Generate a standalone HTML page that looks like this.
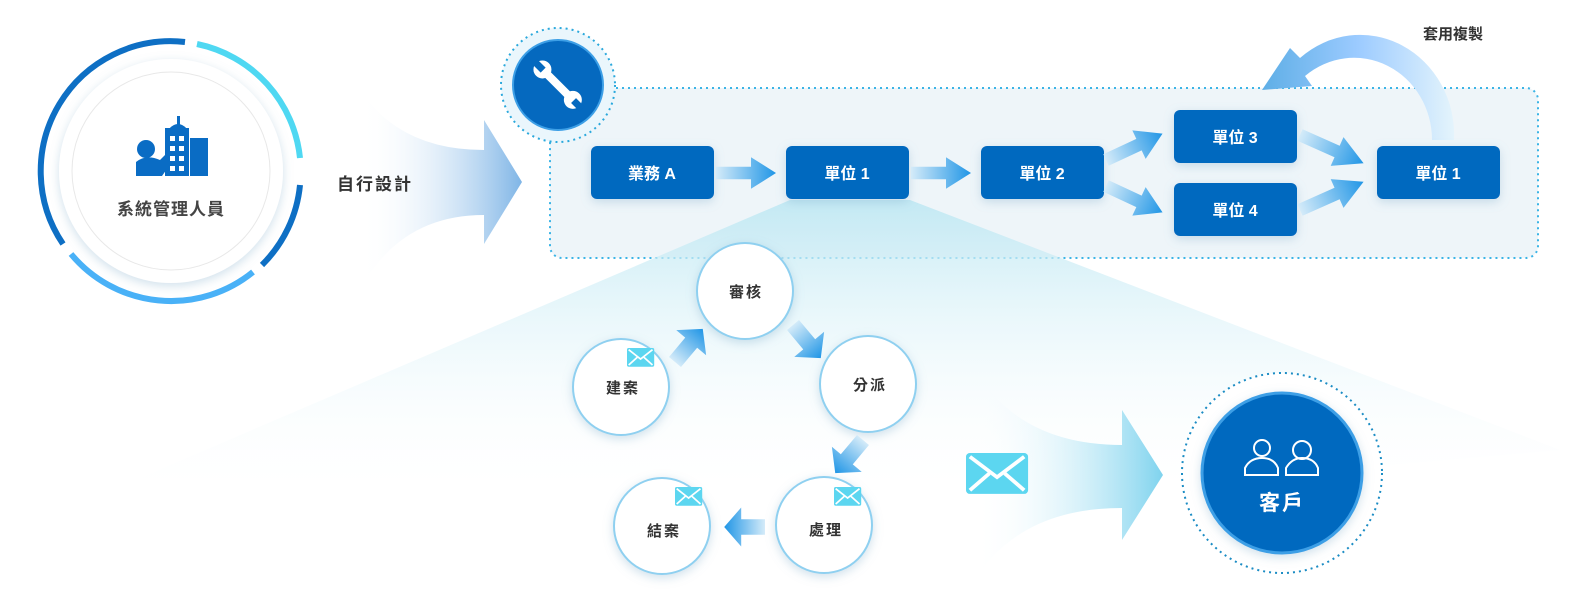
<!DOCTYPE html>
<html><head><meta charset="utf-8"><style>
body{margin:0;background:#fff;}
svg{display:block;font-family:"Liberation Sans","Noto Sans CJK TC",sans-serif;}
</style></head><body>
<svg width="1577" height="600" viewBox="0 0 1577 600" xmlns="http://www.w3.org/2000/svg">
<defs>
<linearGradient id="fan" x1="0" y1="0" x2="0" y2="1"><stop offset="0" stop-color="#bfe8f3"/><stop offset="1" stop-color="#ffffff" stop-opacity="0"/></linearGradient>
<linearGradient id="bigA" x1="0" y1="0" x2="1" y2="0"><stop offset="0" stop-color="#fff" stop-opacity="0"/><stop offset="1" stop-color="#7fb5e6"/></linearGradient>
<linearGradient id="bigB" x1="0" y1="0" x2="1" y2="0"><stop offset="0" stop-color="#fff" stop-opacity="0"/><stop offset="1" stop-color="#7fd3ee"/></linearGradient>
<linearGradient id="sa" x1="0" y1="0" x2="1" y2="0"><stop offset="0" stop-color="#d4ebf9"/><stop offset="1" stop-color="#2196e6"/></linearGradient>
<linearGradient id="curv" x1="0" y1="0" x2="1" y2="0"><stop offset="0" stop-color="#5eaee6"/><stop offset="0.5" stop-color="#9ccbff"/><stop offset="1" stop-color="#e4f4fc"/></linearGradient>
<filter id="sh" x="-30%" y="-30%" width="160%" height="160%"><feDropShadow dx="0" dy="3" stdDeviation="5" flood-color="#7aa9c8" flood-opacity="0.35"/></filter>
<g id="env"><rect x="0" y="0" width="32" height="22" rx="2" fill="#5cd6f0"/><path d="M2 2 L16 13 L30 2 M2 20 L12 11 M30 20 L20 11" stroke="#fff" stroke-width="2" fill="none"/></g>
<g id="arr"><path d="M0 -6 L28 -6 L28 -15 L48 0 L28 15 L28 6 L0 6Z" fill="url(#sa)"/></g>
</defs>

<rect x="550" y="88" width="988" height="170" rx="12" fill="#eef5f9" stroke="#3bb4e6" stroke-width="2" stroke-dasharray="2 4"/>

<path d="M790 200 L910 200 L1560 450 L1000 500 L100 495 Z" fill="url(#fan)" opacity="0.9"/>

<circle cx="171" cy="171" r="112" fill="#fff" filter="url(#sh)"/>
<circle cx="171" cy="171" r="99" fill="none" stroke="#e8e8e8" stroke-width="1"/>
<g fill="none" stroke-width="6">
<path d="M 185 42 A 130 130 0 0 0 63 244" stroke="#0e6fc4"/>
<path d="M 197 44 A 130 130 0 0 1 300 158" stroke="#4fd8f2"/>
<path d="M 300 185 A 130 130 0 0 1 262 265" stroke="#0e6fc4"/>
<path d="M 253 272 A 130 130 0 0 1 71 254" stroke="#49b1f7"/>
</g>
<g fill="#0a6cc4">
<rect x="165" y="128" width="24" height="48"/><rect x="190" y="138" width="18" height="38"/>
<rect x="177" y="116" width="3" height="10"/><path d="M168 130 Q178 118 188 130Z"/>
<circle cx="146" cy="149" r="9"/><path d="M136 176 L136 162 Q146 154 160 160 L170 150 L176 156 L162 176Z"/>
</g>
<g fill="#fff"><rect x="170" y="136" width="5" height="5"/><rect x="179" y="136" width="5" height="5"/><rect x="170" y="146" width="5" height="5"/><rect x="179" y="146" width="5" height="5"/><rect x="170" y="156" width="5" height="5"/><rect x="179" y="156" width="5" height="5"/><rect x="170" y="166" width="5" height="5"/><rect x="179" y="166" width="5" height="5"/></g>
<text x="171" y="215" text-anchor="middle" font-size="17" font-weight="bold" fill="#444" letter-spacing="1">系統管理人員</text>

<path d="M360 90 Q400 150 484 150 L484 120 L522 182 L484 244 L484 215 Q400 215 360 290 Z" fill="url(#bigA)"/>
<text x="337" y="190" font-size="17" font-weight="bold" fill="#333" letter-spacing="2">自行設計</text>

<circle cx="558" cy="85" r="57" fill="#eaf6fc" stroke="#2aa8dc" stroke-width="2" stroke-dasharray="2 4"/>
<circle cx="558" cy="85" r="45" fill="#0569bf" stroke="#3d9fe6" stroke-width="2"/>
<g transform="translate(558,85) rotate(-45)"><rect x="-4" y="-18" width="8" height="34" fill="#fff"/><circle cx="0" cy="-22" r="9" fill="#fff"/><circle cx="0" cy="21" r="9" fill="#fff"/><rect x="-3.5" y="-33" width="7" height="12" fill="#0569bf"/><rect x="-3.5" y="22" width="7" height="12" fill="#0569bf"/></g>

<path d="M1440 140 L1454 140 A 94 100 0 0 0 1300 58 L1290 48 L1262 90 L1312 86 L1305 76 A 78 82 0 0 1 1432 140 Z" fill="url(#curv)"/>
<text x="1423" y="39" font-size="15" font-weight="bold" fill="#333">套用複製</text>

<g filter="url(#sh)" fill="#0569bf">
<rect x="591" y="146" width="123" height="53" rx="6"/>
<rect x="786" y="146" width="123" height="53" rx="6"/>
<rect x="981" y="146" width="123" height="53" rx="6"/>
<rect x="1174" y="110" width="123" height="53" rx="6"/>
<rect x="1174" y="183" width="123" height="53" rx="6"/>
<rect x="1377" y="146" width="123" height="53" rx="6"/>
</g>
<g fill="#fff" font-size="16" font-weight="bold" text-anchor="middle">
<text x="652" y="179">業務 A</text><text x="847" y="179">單位 1</text><text x="1042" y="179">單位 2</text>
<text x="1235" y="143">單位 3</text><text x="1235" y="216">單位 4</text><text x="1438" y="179">單位 1</text>
</g>
<use href="#arr" transform="translate(716,173) scale(1.25,1.05)"/>
<use href="#arr" transform="translate(911,173) scale(1.25,1.05)"/>
<use href="#arr" transform="translate(1106,160) rotate(-25) scale(1.3,1.05)"/>
<use href="#arr" transform="translate(1106,186) rotate(25) scale(1.3,1.05)"/>
<use href="#arr" transform="translate(1300,135) rotate(24) scale(1.45,1.05)"/>
<use href="#arr" transform="translate(1300,210) rotate(-24) scale(1.45,1.05)"/>

<g fill="#fff" stroke="#8fd0f0" stroke-width="2" filter="url(#sh)">
<circle cx="745" cy="291" r="48"/><circle cx="621" cy="387" r="48"/><circle cx="868" cy="384" r="48"/>
<circle cx="824" cy="525" r="48"/><circle cx="662" cy="526" r="48"/>
</g>
<g font-size="15" font-weight="bold" fill="#333" text-anchor="middle" letter-spacing="2">
<text x="746" y="297">審核</text><text x="623" y="393">建案</text><text x="870" y="390">分派</text>
<text x="826" y="535">處理</text><text x="664" y="536">結案</text>
</g>
<use href="#env" transform="translate(627,348) scale(0.85)"/>
<use href="#env" transform="translate(834,487) scale(0.85)"/>
<use href="#env" transform="translate(675,487) scale(0.85)"/>
<use href="#arr" transform="translate(675,362) rotate(-50) scale(0.9,1.3)"/>
<use href="#arr" transform="translate(793,325) rotate(50) scale(0.9,1.3)"/>
<use href="#arr" transform="translate(863,440) rotate(130) scale(0.9,1.3)"/>
<use href="#arr" transform="translate(765,527) rotate(180) scale(0.85,1.3)"/>

<path d="M975 370 Q1020 445 1122 445 L1122 410 L1163 475 L1122 540 L1122 508 Q1020 508 975 580 Z" fill="url(#bigB)"/>
<use href="#env" transform="translate(966,453) scale(1.94,1.86)"/>

<circle cx="1282" cy="473" r="100" fill="#fff" stroke="#1b8cc4" stroke-width="2" stroke-dasharray="2 4"/>
<circle cx="1282" cy="473" r="80" fill="#0569bf" stroke="#3d9fe6" stroke-width="3" filter="url(#sh)"/>
<g fill="none" stroke="#fff" stroke-width="2">
<circle cx="1262" cy="448" r="8"/><path d="M1245 475 L1245 468 Q1250 458 1262 458 Q1274 458 1278 468 L1278 475Z"/>
<circle cx="1302" cy="450" r="9"/><path d="M1286 475 L1286 468 Q1292 458 1302 458 Q1314 458 1318 468 L1318 475Z"/>
</g>
<text x="1282" y="510" text-anchor="middle" font-size="21" font-weight="bold" fill="#fff" letter-spacing="2">客戶</text>
</svg>
</body></html>
